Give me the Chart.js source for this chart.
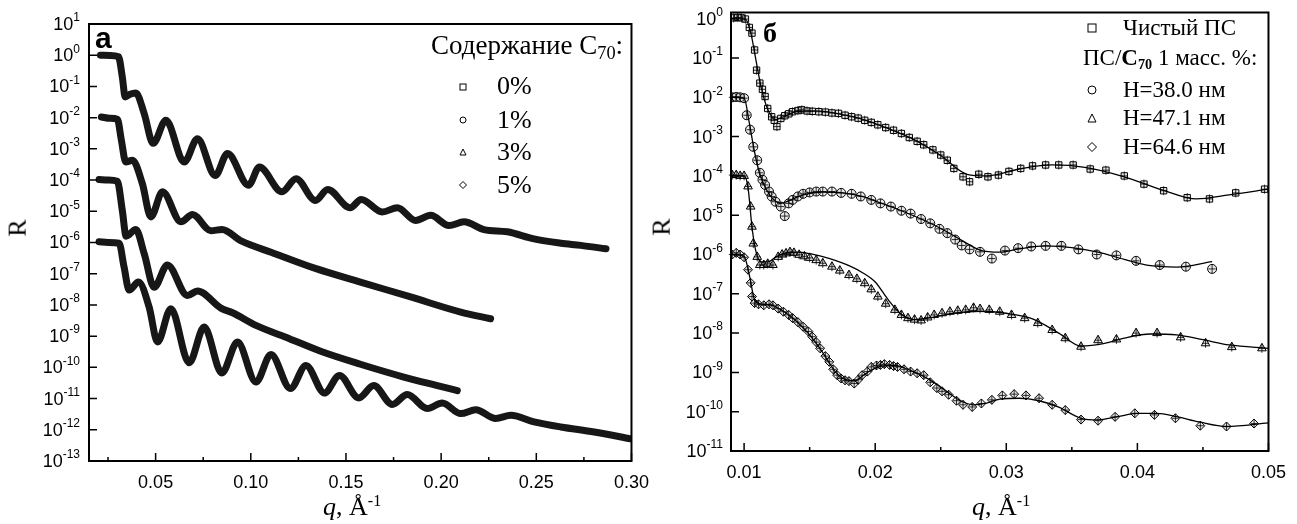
<!DOCTYPE html>
<html>
<head>
<meta charset="utf-8">
<script src="https://cdn.jsdelivr.net/npm/chart.js@4.4.0/dist/chart.umd.min.js"></script>
<style>
body { margin: 0; background: #fff; width: 1297px; height: 524px; position: relative; overflow: hidden; font-family: "Liberation Serif", serif; }
.box { position: absolute; top: 0; height: 524px; }
#boxA { left: 0; width: 660px; }
#boxB { left: 660px; width: 637px; }
.t { position: absolute; white-space: nowrap; color: #000; line-height: 1; z-index: 5; }
.t sub { font-size: 62%; vertical-align: -0.25em; line-height: 0; }
.t sup { font-size: 62%; vertical-align: 0.55em; line-height: 0; }
.mk { position: absolute; z-index: 5; }
</style>
</head>
<body>
<div class="box" id="boxA"><canvas id="chartA"></canvas></div>
<div class="box" id="boxB"><canvas id="chartB"></canvas></div>

<!-- panel a texts -->
<div class="t" style="left:95px;top:21px;font:bold 30px 'Liberation Sans';">a</div>
<div class="t" style="left:431px;top:32px;font-size:27px;">Содержание C<sub style="font-size:68%">70</sub>:</div>
<div class="t" style="left:497px;top:73px;font-size:26px;">0%</div>
<div class="t" style="left:497px;top:107px;font-size:26px;">1%</div>
<div class="t" style="left:497px;top:139px;font-size:26px;">3%</div>
<div class="t" style="left:497px;top:172px;font-size:26px;">5%</div>
<svg class="mk" style="left:459px;top:83px" width="8" height="8"><rect x="1" y="1" width="6" height="6" fill="none" stroke="#000" stroke-width="1"/></svg>
<svg class="mk" style="left:459px;top:116px" width="8" height="8"><circle cx="4" cy="4" r="3" fill="none" stroke="#000" stroke-width="1"/></svg>
<svg class="mk" style="left:459px;top:148px" width="8" height="8"><polygon points="4,1 7,7 1,7" fill="none" stroke="#000" stroke-width="1"/></svg>
<svg class="mk" style="left:459px;top:181px" width="8" height="8"><polygon points="4,0.5 7.5,4 4,7.5 0.5,4" fill="none" stroke="#000" stroke-width="1"/></svg>
<div class="t" style="left:9px;top:228px;font-size:26px;transform:translate(0,-50%) rotate(-90deg);">R</div>
<div class="t" style="left:323px;top:494px;font-size:26px;"><i>q</i>, Å<sup>-1</sup></div>

<!-- panel b texts -->
<div class="t" style="left:763px;top:17px;font:bold 28px 'Liberation Serif';">б</div>
<div class="t" style="left:1123px;top:16px;font-size:23px;">Чистый ПС</div>
<div class="t" style="left:1083px;top:46px;font-size:23px;">ПС/<b>C<sub>70</sub></b> 1 масс. %:</div>
<div class="t" style="left:1123px;top:78px;font-size:23px;">H=38.0 нм</div>
<div class="t" style="left:1123px;top:106px;font-size:23px;">H=47.1 нм</div>
<div class="t" style="left:1123px;top:135px;font-size:23px;">H=64.6 нм</div>
<svg class="mk" style="left:1087px;top:23px" width="10" height="10"><rect x="1" y="1" width="8" height="8" fill="none" stroke="#000" stroke-width="1"/></svg>
<svg class="mk" style="left:1087px;top:85px" width="10" height="10"><circle cx="5" cy="5" r="4" fill="none" stroke="#000" stroke-width="1"/></svg>
<svg class="mk" style="left:1087px;top:113px" width="10" height="10"><polygon points="5,1 9,9 1,9" fill="none" stroke="#000" stroke-width="1"/></svg>
<svg class="mk" style="left:1087px;top:142px" width="10" height="10"><polygon points="5,0.5 9.5,5 5,9.5 0.5,5" fill="none" stroke="#000" stroke-width="1"/></svg>
<div class="t" style="left:653px;top:227px;font-size:26px;transform:translate(0,-50%) rotate(-90deg);">R</div>
<div class="t" style="left:972px;top:494px;font-size:26px;"><i>q</i>, Å<sup>-1</sup></div>

<script>
// ---- panel a: C70 content series ----
var q0 = [0.021, 0.026, 0.0305, 0.0325, 0.034, 0.0365, 0.0396, 0.044, 0.0487, 0.0554, 0.065, 0.072, 0.0813, 0.0878, 0.0988, 0.1045, 0.1164, 0.1238, 0.134, 0.1404, 0.1522, 0.158, 0.169, 0.177, 0.1866, 0.1945, 0.2041, 0.212, 0.2225, 0.2348, 0.2488, 0.2629, 0.2734, 0.2866];
var r0 = [1.0, 0.98, 0.89, 0.20, 0.046, 0.056, 0.062, 0.0135, 1.5e-3, 8.3e-3, 3.8e-4, 2.1e-3, 1.4e-4, 7.1e-4, 6.8e-5, 2.6e-4, 4.2e-5, 1.1e-4, 2.2e-5, 5.0e-5, 1.3e-5, 2.4e-5, 9.5e-6, 1.3e-5, 5.1e-6, 7.4e-6, 3.5e-6, 4.6e-6, 2.6e-6, 2.2e-6, 1.3e-6, 9.5e-7, 8.1e-7, 6.3e-7];

var q1 = [0.0215, 0.026, 0.0299, 0.032, 0.0343, 0.0378, 0.043, 0.0475, 0.0536, 0.0633, 0.0694, 0.079, 0.0848, 0.0952, 0.111, 0.1343, 0.1576, 0.184, 0.2103, 0.226];
var r1 = [1.05e-2, 9.5e-3, 8.9e-3, 1.9e-3, 3.8e-4, 4.3e-4, 7.8e-5, 6.6e-6, 4.2e-5, 4.6e-6, 7.9e-6, 2.4e-6, 2.6e-6, 1.1e-6, 4.8e-7, 1.45e-7, 5.4e-8, 1.8e-8, 5.9e-9, 3.6e-9];

var q3 = [0.0203, 0.025, 0.0299, 0.0325, 0.0345, 0.0396, 0.044, 0.0492, 0.0562, 0.0667, 0.072, 0.0843, 0.0904, 0.1027, 0.1203, 0.1378, 0.1576, 0.1804, 0.198, 0.2085];
var r3 = [1.05e-4, 1.0e-4, 9.1e-5, 1.07e-5, 1.6e-6, 2.6e-6, 4.4e-7, 3.7e-8, 1.9e-7, 2.0e-8, 2.8e-8, 7.9e-9, 5.6e-9, 2.2e-9, 8.3e-10, 3.1e-10, 1.26e-10, 4.9e-11, 2.6e-11, 1.8e-11];

var q5 = [0.0203, 0.025, 0.0308, 0.0334, 0.0361, 0.041, 0.0466, 0.051, 0.058, 0.0676, 0.0755, 0.0848, 0.093, 0.1027, 0.1106, 0.1208, 0.129, 0.1387, 0.1466, 0.1567, 0.1646, 0.1743, 0.1822, 0.1927, 0.2006, 0.2103, 0.2182, 0.2287, 0.2366, 0.2488, 0.2629, 0.2804, 0.2997];
var r5 = [1.05e-6, 1.0e-6, 9.5e-7, 1.66e-7, 3.0e-8, 5.4e-8, 8.5e-9, 6.5e-10, 7.6e-9, 1.4e-10, 1.95e-9, 6.6e-11, 6.5e-10, 3.4e-11, 2.6e-10, 2.1e-11, 1.15e-10, 1.5e-11, 5.5e-11, 1.05e-11, 2.6e-11, 6.5e-12, 1.35e-11, 4.8e-12, 7.2e-12, 3.3e-12, 4.4e-12, 2.3e-12, 2.9e-12, 1.8e-12, 1.23e-12, 8.5e-13, 5.1e-13];

// ---- panel b: measured points ----
var qPS = [0.0092, 0.0095, 0.0098, 0.0101, 0.0104, 0.0106, 0.0108, 0.01095, 0.0112, 0.0114, 0.0116, 0.0118, 0.0121, 0.0123, 0.0125, 0.0128, 0.0131, 0.0134, 0.0137, 0.0141, 0.0144, 0.0148, 0.0152, 0.0157, 0.0162, 0.0167, 0.0172, 0.0177, 0.0182, 0.0187, 0.0192, 0.0197, 0.0202, 0.0208, 0.0214, 0.022, 0.0226, 0.0232, 0.0237, 0.0244, 0.025, 0.0255, 0.026, 0.0267, 0.0272, 0.0279, 0.0286, 0.0294, 0.0302, 0.0311, 0.032, 0.033, 0.034, 0.0351, 0.0364, 0.0376, 0.039, 0.0405, 0.042, 0.0438, 0.0455, 0.0475, 0.0497];
var rPS = [1.05, 1.08, 1.05, 0.98, 0.6, 0.43, 0.16, 0.049, 0.023, 0.016, 0.0105, 5.2e-3, 3.2e-3, 2.6e-3, 1.8e-3, 2.9e-3, 3.4e-3, 3.8e-3, 4.3e-3, 4.6e-3, 4.8e-3, 4.5e-3, 4.4e-3, 4.3e-3, 4.2e-3, 4.0e-3, 3.9e-3, 3.5e-3, 3.2e-3, 2.95e-3, 2.6e-3, 2.3e-3, 2.0e-3, 1.7e-3, 1.45e-3, 1.2e-3, 9.5e-4, 7.6e-4, 6.2e-4, 4.6e-4, 3.4e-4, 2.5e-4, 1.55e-4, 9.5e-5, 7.1e-5, 1.1e-4, 9.5e-5, 1.05e-4, 1.3e-4, 1.55e-4, 1.8e-4, 1.9e-4, 1.9e-4, 1.9e-4, 1.5e-4, 1.4e-4, 1.0e-4, 6.2e-5, 4.2e-5, 2.8e-5, 2.6e-5, 3.7e-5, 4.6e-5];

var qH38 = [0.0091, 0.0094, 0.0097, 0.0100, 0.0102, 0.01045, 0.0107, 0.011, 0.0112, 0.0114, 0.0116, 0.0119, 0.0121, 0.0124, 0.0128, 0.0131, 0.0134, 0.0137, 0.0141, 0.0145, 0.015, 0.0155, 0.016, 0.0167, 0.0174, 0.0182, 0.0189, 0.0197, 0.0204, 0.0212, 0.022, 0.0227, 0.0235, 0.0242, 0.0249, 0.0255, 0.0261, 0.0266, 0.0272, 0.028, 0.0289, 0.0299, 0.0309, 0.0319, 0.033, 0.0342, 0.0355, 0.0369, 0.0384, 0.0399, 0.0417, 0.0437, 0.0457];
var rH38 = [1.0e-2, 1.02e-2, 1.0e-2, 9.5e-3, 3.5e-3, 1.5e-3, 5.5e-4, 2.5e-4, 1.2e-4, 8e-5, 5.9e-5, 4e-5, 3.0e-5, 2.2e-5, 1.66e-5, 9.5e-6, 2.0e-5, 2.45e-5, 3.0e-5, 3.5e-5, 3.8e-5, 4.0e-5, 4.0e-5, 4.0e-5, 3.7e-5, 3.5e-5, 3.0e-5, 2.45e-5, 2.0e-5, 1.66e-5, 1.3e-5, 1.1e-5, 8e-6, 6.2e-6, 4.5e-6, 3.5e-6, 2.4e-6, 1.7e-6, 1.35e-6, 1.17e-6, 7.9e-7, 1.26e-6, 1.45e-6, 1.6e-6, 1.66e-6, 1.66e-6, 1.35e-6, 1.0e-6, 9.5e-7, 6.9e-7, 5.4e-7, 4.9e-7, 4.3e-7];

var qH47 = [0.0091, 0.0094, 0.0097, 0.0100, 0.0103, 0.0105, 0.0106, 0.0107, 0.011, 0.0112, 0.0115, 0.0118, 0.0122, 0.0126, 0.0129, 0.0132, 0.0135, 0.0138, 0.0142, 0.0146, 0.015, 0.0155, 0.016, 0.0167, 0.0173, 0.018, 0.0186, 0.0192, 0.0197, 0.0202, 0.0208, 0.0215, 0.022, 0.0225, 0.023, 0.0235, 0.024, 0.0245, 0.0251, 0.0257, 0.0263, 0.0269, 0.0275, 0.028, 0.0287, 0.0295, 0.0304, 0.0314, 0.0324, 0.0335, 0.0345, 0.0357, 0.037, 0.0384, 0.0399, 0.0415, 0.0433, 0.0452, 0.0472, 0.0495];
var rH47 = [1.05e-4, 1.05e-4, 1.0e-4, 1.0e-4, 5.4e-5, 1.66e-5, 5.1e-6, 1.9e-6, 8.7e-7, 5.4e-7, 5.4e-7, 5.8e-7, 5.4e-7, 8.7e-7, 1.0e-6, 1.07e-6, 1.15e-6, 1.1e-6, 9.8e-7, 9e-7, 8.2e-7, 7.2e-7, 6e-7, 4.9e-7, 3.9e-7, 3.0e-7, 2.4e-7, 1.86e-7, 1.3e-7, 8.5e-8, 5.6e-8, 3.9e-8, 2.9e-8, 2.4e-8, 2.2e-8, 2.1e-8, 2.5e-8, 2.9e-8, 3.2e-8, 3.5e-8, 3.7e-8, 3.9e-8, 4.4e-8, 4.1e-8, 3.9e-8, 3.5e-8, 2.9e-8, 2.4e-8, 1.8e-8, 1.2e-8, 7.4e-9, 4.5e-9, 6.6e-9, 6.9e-9, 1.0e-8, 1.0e-8, 7.8e-9, 5.5e-9, 4.4e-9, 4.1e-9];

var qH64 = [0.0091, 0.0094, 0.0097, 0.01, 0.0103, 0.0105, 0.0106, 0.0108, 0.0111, 0.0115, 0.0119, 0.0122, 0.0126, 0.013, 0.0134, 0.0137, 0.0141, 0.0145, 0.0149, 0.0152, 0.0155, 0.0158, 0.0162, 0.0165, 0.0168, 0.0171, 0.0174, 0.0177, 0.018, 0.0184, 0.0187, 0.019, 0.0194, 0.0197, 0.0201, 0.0204, 0.0207, 0.0211, 0.0214, 0.0217, 0.0222, 0.0227, 0.0232, 0.0237, 0.0242, 0.0247, 0.0251, 0.0256, 0.0262, 0.0267, 0.0274, 0.0281, 0.0289, 0.0297, 0.0306, 0.0315, 0.0325, 0.0335, 0.0345, 0.0357, 0.037, 0.0383, 0.0398, 0.0413, 0.0429, 0.0448, 0.0468, 0.0489];
var rH64 = [1.0e-6, 1.1e-6, 1.0e-6, 8.5e-7, 4.1e-7, 1.9e-7, 8.5e-8, 5.8e-8, 5.4e-8, 5.1e-8, 5.4e-8, 5.1e-8, 4.2e-8, 3.5e-8, 2.9e-8, 2.4e-8, 1.9e-8, 1.45e-8, 1.1e-8, 8.1e-9, 5.9e-9, 4.1e-9, 2.6e-9, 1.86e-9, 1.2e-9, 8.5e-10, 7e-10, 6.3e-10, 6.0e-10, 5.2e-10, 6.5e-10, 8.5e-10, 1.05e-9, 1.38e-9, 1.5e-9, 1.55e-9, 1.62e-9, 1.55e-9, 1.45e-9, 1.38e-9, 1.2e-9, 1.05e-9, 9.5e-10, 8.5e-10, 5.6e-10, 4.0e-10, 3.3e-10, 2.7e-10, 1.9e-10, 1.5e-10, 1.32e-10, 1.62e-10, 2.0e-10, 2.6e-10, 2.8e-10, 2.6e-10, 2.2e-10, 1.5e-10, 1.1e-10, 6.3e-11, 5.9e-11, 7.4e-11, 9.1e-11, 8.3e-11, 6.8e-11, 4.4e-11, 4.2e-11, 5.0e-11];

// ---- panel b: fit curves ----
var fqPS = [0.009, 0.0101, 0.0105, 0.0109, 0.0113, 0.0118, 0.0124, 0.013, 0.014, 0.0155, 0.017, 0.019, 0.021, 0.023, 0.025, 0.027, 0.0285, 0.031, 0.0335, 0.036, 0.039, 0.042, 0.0445, 0.047, 0.05];
var frPS = [1.0, 0.98, 0.45, 0.09, 0.018, 5e-3, 2.7e-3, 3.2e-3, 4.3e-3, 4.5e-3, 3.9e-3, 2.8e-3, 1.6e-3, 8.3e-4, 3.3e-4, 1.1e-4, 1.0e-4, 1.5e-4, 1.9e-4, 1.65e-4, 9.5e-5, 4.3e-5, 2.6e-5, 3.3e-5, 4.6e-5];
var fqH38 = [0.009, 0.0100, 0.0104, 0.0108, 0.0112, 0.0117, 0.0122, 0.0128, 0.0135, 0.0145, 0.016, 0.0175, 0.019, 0.0205, 0.022, 0.0235, 0.025, 0.0265, 0.028, 0.0295, 0.031, 0.033, 0.035, 0.037, 0.039, 0.041, 0.043, 0.0457];
var frH38 = [1.0e-2, 9.5e-3, 2.2e-3, 4e-4, 1.1e-4, 4.5e-5, 2.6e-5, 2.0e-5, 2.4e-5, 3.3e-5, 3.9e-5, 3.7e-5, 3.0e-5, 2.0e-5, 1.3e-5, 8e-6, 4.6e-6, 2.4e-6, 1.3e-6, 1.15e-6, 1.4e-6, 1.65e-6, 1.5e-6, 1.15e-6, 7.5e-7, 5.2e-7, 4.8e-7, 6.6e-7];
var fqH47 = [0.009, 0.0100, 0.0103, 0.0106, 0.0109, 0.0113, 0.0118, 0.0125, 0.0132, 0.014, 0.015, 0.016, 0.017, 0.018, 0.019, 0.020, 0.021, 0.022, 0.023, 0.024, 0.026, 0.028, 0.030, 0.032, 0.034, 0.0357, 0.0375, 0.039, 0.041, 0.043, 0.045, 0.047, 0.05];
var frH47 = [1.0e-4, 1.0e-4, 5e-5, 5e-6, 1.2e-6, 6.5e-7, 6.5e-7, 9e-7, 1.1e-6, 1.15e-6, 1.05e-6, 8.8e-7, 7e-7, 5.2e-7, 3.5e-7, 2.0e-7, 7e-8, 3e-8, 2.2e-8, 2.4e-8, 3.2e-8, 3.6e-8, 3.2e-8, 2.3e-8, 1.0e-8, 4.7e-9, 5.5e-9, 7.5e-9, 9.5e-9, 9e-9, 6.8e-9, 5e-9, 4.1e-9];
var fqH64 = [0.009, 0.0100, 0.0104, 0.0108, 0.0113, 0.012, 0.013, 0.014, 0.015, 0.016, 0.017, 0.0178, 0.0185, 0.019, 0.0197, 0.0205, 0.0215, 0.0225, 0.0235, 0.0245, 0.0255, 0.0265, 0.0275, 0.0285, 0.0295, 0.031, 0.0325, 0.034, 0.0357, 0.037, 0.0385, 0.04, 0.0415, 0.043, 0.0447, 0.0468, 0.05];
var frH64 = [1e-6, 9e-7, 3e-7, 7e-8, 5.5e-8, 5.2e-8, 3.6e-8, 2.0e-8, 9e-9, 3.2e-9, 1.0e-9, 6.5e-10, 6.2e-10, 8e-10, 1.15e-9, 1.45e-9, 1.5e-9, 1.2e-9, 8.5e-10, 5.5e-10, 3.2e-10, 1.9e-10, 1.5e-10, 1.65e-10, 2.1e-10, 2.2e-10, 1.9e-10, 1.3e-10, 6.8e-11, 6.2e-11, 7.5e-11, 9.1e-11, 9.1e-11, 7.5e-11, 5.5e-11, 4.2e-11, 5.2e-11];

// ---- ticks ----
var xMajorA = [0.05, 0.10, 0.15, 0.20, 0.25, 0.30];
var xMinorA = [0.025, 0.075, 0.125, 0.175, 0.225, 0.275];
var yExpA = [1, 0, -1, -2, -3, -4, -5, -6, -7, -8, -9, -10, -11, -12, -13];
var xMajorB = [0.01, 0.02, 0.03, 0.04, 0.05];
var xMinorB = [0.015, 0.025, 0.035, 0.045];
var yExpB = [0, -1, -2, -3, -4, -5, -6, -7, -8, -9, -10, -11];

function pts(xs, ys) {
  return xs.map(function(x, i) { return { x: x, y: ys[i] }; });
}

// frame, inward ticks and 10^n labels
var framePlugin = {
  id: "frame",
  afterDraw: function(chart, args, opts) {
    var ctx = chart.ctx, a = chart.chartArea;
    var xs = chart.scales.x, ys = chart.scales.y;
    ctx.save();
    ctx.strokeStyle = "#000";
    ctx.lineWidth = 2;
    ctx.strokeRect(a.left, a.top, a.right - a.left, a.bottom - a.top);
    ctx.lineWidth = 1.5;
    ctx.beginPath();
    opts.xMajor.forEach(function(v) {
      var x = xs.getPixelForValue(v);
      ctx.moveTo(x, a.bottom); ctx.lineTo(x, a.bottom - 8);
    });
    opts.xMinor.forEach(function(v) {
      var x = xs.getPixelForValue(v);
      ctx.moveTo(x, a.bottom); ctx.lineTo(x, a.bottom - 4);
    });
    opts.yExp.forEach(function(n) {
      var y = ys.getPixelForValue(Math.pow(10, n));
      ctx.moveTo(a.left, y); ctx.lineTo(a.left + 8, y);
    });
    ctx.stroke();
    ctx.fillStyle = "#000";
    ctx.textBaseline = "middle";
    ctx.textAlign = "left";
    opts.yExp.forEach(function(n) {
      var y = ys.getPixelForValue(Math.pow(10, n));
      var e = String(n);
      ctx.font = '12px "Liberation Sans"';
      var ew = ctx.measureText(e).width;
      ctx.font = '18px "Liberation Sans"';
      var bw = ctx.measureText("10").width;
      var right = a.left - opts.gap;
      ctx.fillText("10", right - ew - bw, y + 1);
      ctx.font = '12px "Liberation Sans"';
      ctx.fillText(e, right - ew, y - 6);
    });
    ctx.restore();
  }
};

// error-bar crosses inside the markers of panel b
var crossPlugin = {
  id: "cross",
  afterDatasetsDraw: function(chart) {
    var ctx = chart.ctx;
    ctx.save();
    ctx.strokeStyle = "#000";
    ctx.lineWidth = 0.8;
    chart.data.datasets.forEach(function(ds, i) {
      if (!ds.errCross) return;
      chart.getDatasetMeta(i).data.forEach(function(p) {
        ctx.beginPath();
        ctx.moveTo(p.x - 3.5, p.y); ctx.lineTo(p.x + 3.5, p.y);
        ctx.moveTo(p.x, p.y - 4.5); ctx.lineTo(p.x, p.y + 4.5);
        ctx.stroke();
      });
    });
    ctx.restore();
  }
};

function band(xs, ys) {
  return {
    data: pts(xs, ys),
    showLine: true,
    borderColor: "#171717",
    borderWidth: 7,
    borderCapStyle: "round",
    borderJoinStyle: "round",
    cubicInterpolationMode: "monotone",
    pointRadius: 0
  };
}

function marks(xs, ys, style) {
  return {
    data: pts(xs, ys),
    showLine: false,
    pointStyle: style,
    pointRadius: style === "triangle" ? 5 : 4.5,
    pointBorderColor: "#000",
    pointBackgroundColor: "rgba(190,190,190,0.35)",
    pointBorderWidth: 1,
    errCross: true
  };
}

function fit(xs, ys) {
  return {
    data: pts(xs, ys),
    showLine: true,
    borderColor: "#000",
    borderWidth: 1.3,
    cubicInterpolationMode: "monotone",
    pointRadius: 0
  };
}

var tickFont = { family: "Liberation Sans", size: 18 };

new Chart(document.getElementById("chartA"), {
  type: "scatter",
  data: {
    datasets: [band(q0, r0), band(q1, r1), band(q3, r3), band(q5, r5)]
  },
  options: {
    responsive: true,
    maintainAspectRatio: false,
    animation: false,
    layout: { padding: { left: 0, top: 24, right: 28, bottom: 0 } },
    plugins: {
      legend: { display: false },
      tooltip: { enabled: false },
      frame: { xMajor: xMajorA, xMinor: xMinorA, yExp: yExpA, gap: 9 }
    },
    scales: {
      x: {
        type: "linear", min: 0.015, max: 0.30,
        afterBuildTicks: function(s) { s.ticks = xMajorA.map(function(v) { return { value: v }; }); },
        afterFit: function(s) { s.height = 63; },
        ticks: { color: "#000", font: tickFont, padding: 11, maxRotation: 0, autoSkip: false,
          callback: function(v) { return v.toFixed(2); } },
        grid: { display: false, drawTicks: false },
        border: { display: false }
      },
      y: {
        type: "logarithmic", min: 1e-13, max: 10,
        afterFit: function(s) { s.width = 89; },
        ticks: { display: false },
        grid: { display: false, drawTicks: false },
        border: { display: false }
      }
    }
  },
  plugins: [framePlugin]
});

new Chart(document.getElementById("chartB"), {
  type: "scatter",
  data: {
    datasets: [
      fit(fqPS, frPS), fit(fqH38, frH38), fit(fqH47, frH47), fit(fqH64, frH64),
      marks(qPS, rPS, "rect"), marks(qH38, rH38, "circle"),
      marks(qH47, rH47, "triangle"), marks(qH64, rH64, "rectRot")
    ]
  },
  options: {
    responsive: true,
    maintainAspectRatio: false,
    animation: false,
    layout: { padding: { left: 0, top: 12.5, right: 21, bottom: 0 } },
    plugins: {
      legend: { display: false },
      tooltip: { enabled: false },
      frame: { xMajor: xMajorB, xMinor: xMinorB, yExp: yExpB, gap: 8 }
    },
    scales: {
      x: {
        type: "linear", min: 0.009, max: 0.05,
        afterBuildTicks: function(s) { s.ticks = xMajorB.map(function(v) { return { value: v }; }); },
        afterFit: function(s) { s.height = 73; },
        ticks: { color: "#000", font: tickFont, padding: 11, maxRotation: 0, autoSkip: false,
          callback: function(v) { return v.toFixed(2); } },
        grid: { display: false, drawTicks: false },
        border: { display: false }
      },
      y: {
        type: "logarithmic", min: 1e-11, max: 1.44,
        afterFit: function(s) { s.width = 71; },
        ticks: { display: false },
        grid: { display: false, drawTicks: false },
        border: { display: false }
      }
    }
  },
  plugins: [framePlugin, crossPlugin]
});
</script>
</body>
</html>
